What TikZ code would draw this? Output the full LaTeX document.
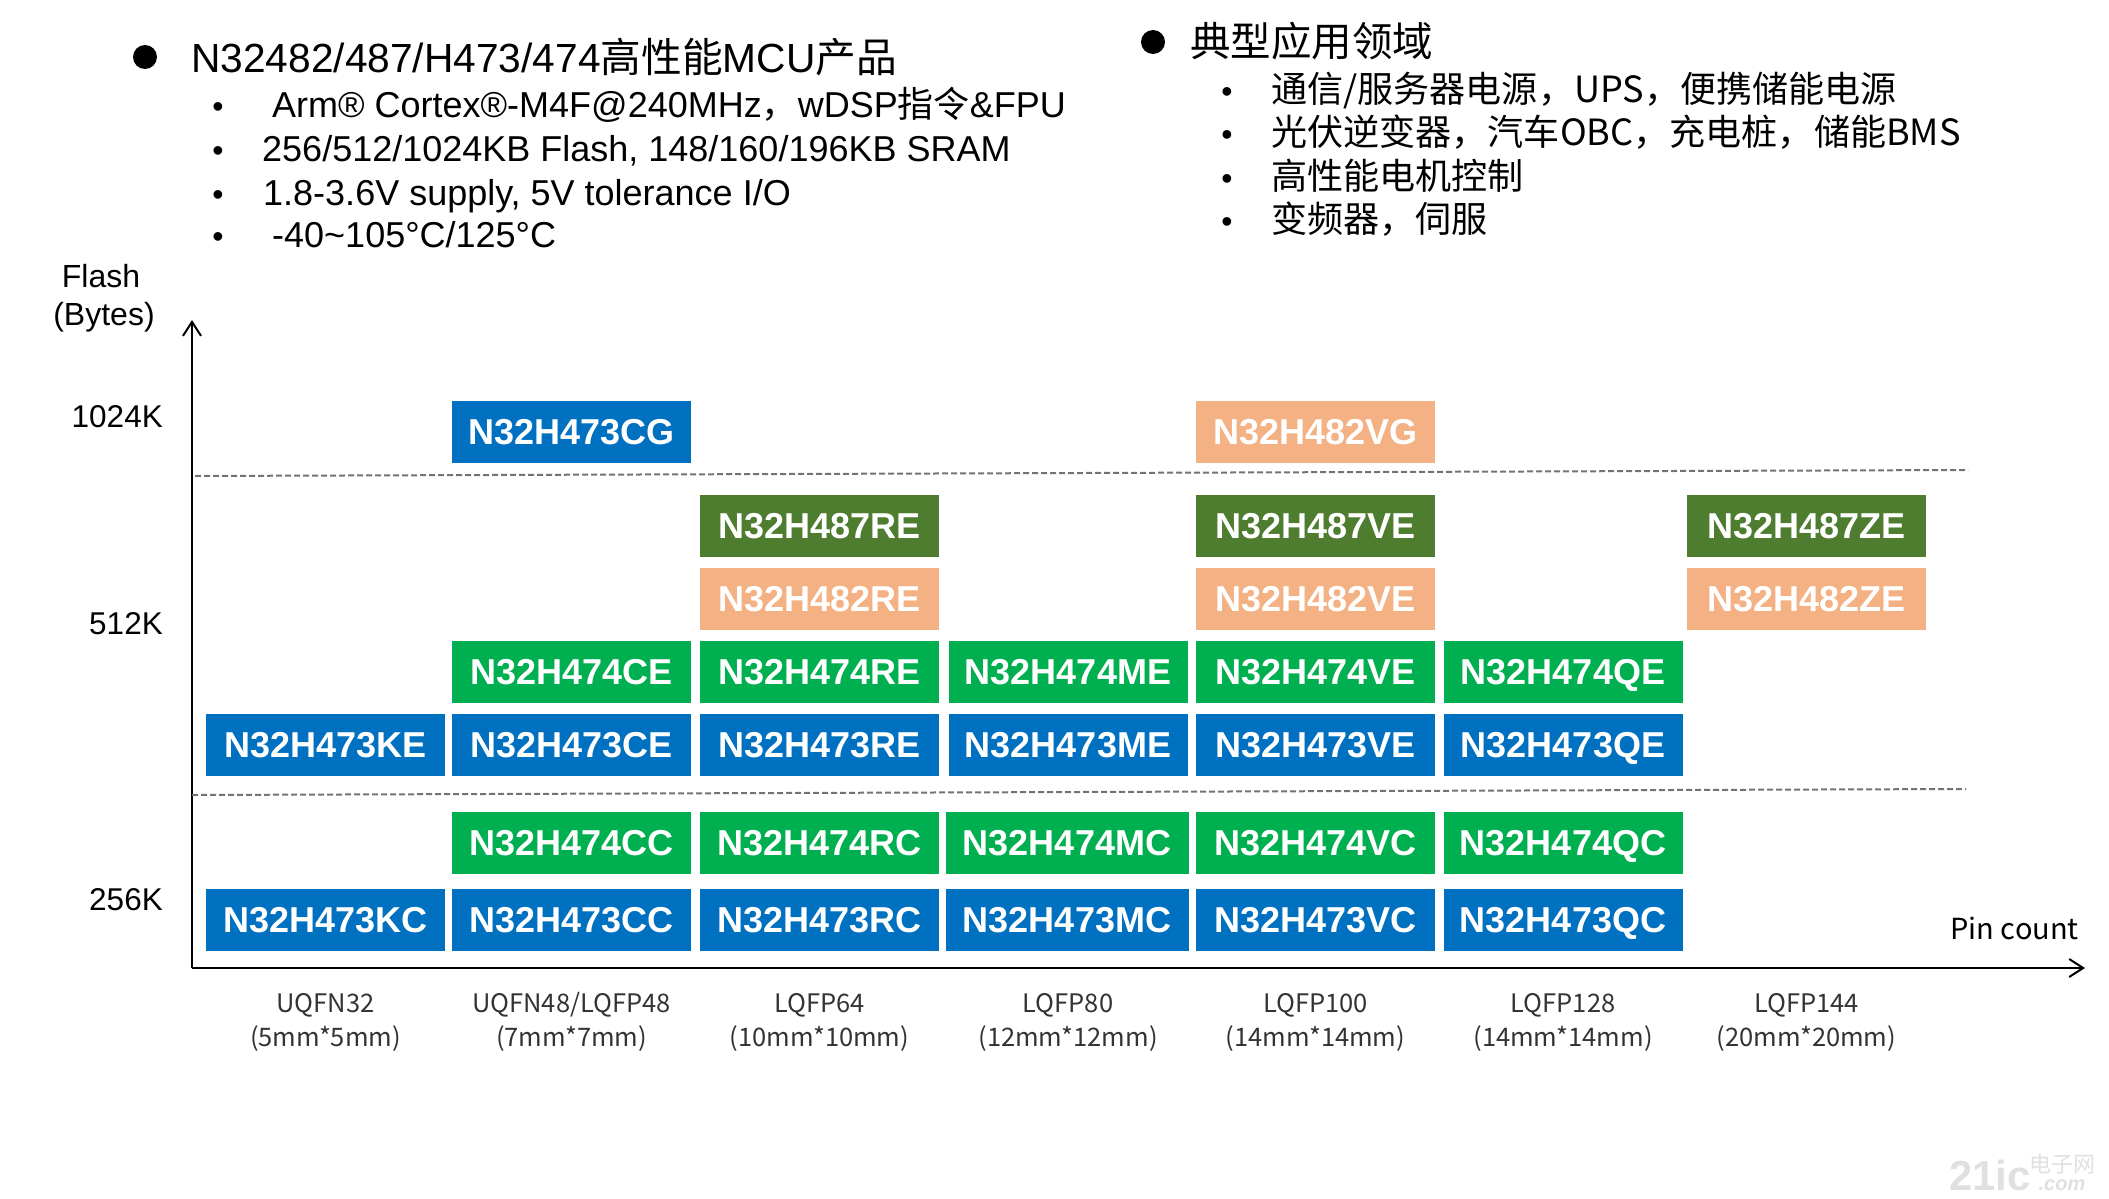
\documentclass[tikz,border=0pt]{standalone}
\usepackage{fontspec}
\setmainfont{Liberation Sans}
\newfontfamily\cjkfont{Noto Sans CJK SC}
\usetikzlibrary{arrows.meta}
\definecolor{chipblue}{HTML}{0070C0}
\definecolor{chipgreen}{HTML}{00B050}
\definecolor{chipolive}{HTML}{4E7D30}
\definecolor{chiporange}{HTML}{F4B183}
\tikzset{
  chip/.style={minimum width=239pt,minimum height=62pt,inner sep=0pt,text=white,
    text height=25pt,text depth=0pt,font=\fontsize{36}{36}\selectfont\bfseries},
  h473/.style={chip,fill=chipblue},
  h474/.style={chip,fill=chipgreen},
  h487/.style={chip,fill=chipolive},
  h482/.style={chip,fill=chiporange},
  headline/.style={anchor=base west,inner sep=0pt,font=\fontsize{40.7}{40.7}\selectfont},
  specline/.style={anchor=base west,inner sep=0pt,font=\fontsize{36}{36}\selectfont},
  useline/.style={anchor=base west,inner sep=0pt,font=\fontsize{36.1}{36.1}\selectfont\cjkfont},
  smalldot/.style={anchor=base,inner sep=0pt,font=\fontsize{32}{32}\selectfont},
  bigdot/.style={circle,fill=black,inner sep=0pt,minimum size=24pt},
  sizelabel/.style={anchor=base east,inner sep=0pt,font=\fontsize{31.5}{31.5}\selectfont},
  pkglabel/.style={anchor=base,inner sep=0pt,text=black!80,font=\fontsize{25.5}{25.5}\selectfont\cjkfont},
  limit/.style={draw=black!55,line width=2pt,dash pattern=on 6pt off 3pt},
  axis/.style={line width=2pt,-{Straight Barb[length=14pt,width=18pt]}}
}
\begin{document}
\begin{tikzpicture}[x=1pt,y=-1pt]
  \useasboundingbox (0,0) rectangle (2109,1199);
  \draw
    (145,57) node[bigdot] (dotl){}
    (191,72) node[headline] (headl){N32482/487/H473/474{\cjkfont 高性能}MCU{\cjkfont 产品}}
    (218,117) node[smalldot] (dotl1){•}
    (218,161) node[smalldot] (dotl2){•}
    (218,205) node[smalldot] (dotl3){•}
    (218,247) node[smalldot] (dotl4){•}
    (272,117) node[specline] (specl1){Arm® Cortex®-M4F@240MHz{\cjkfont ，}wDSP{\cjkfont 指令}\&FPU}
    (262,161) node[specline] (specl2){256/512/1024KB Flash, 148/160/196KB SRAM}
    (263,205) node[specline] (specl3){1.8-3.6V supply, 5V tolerance I/O}
    (272,247) node[specline] (specl4){-40\textasciitilde 105°C/125°C};
  \draw
    (1153,42) node[bigdot] (dotr){}
    (1190,57) node[headline,font=\fontsize{40.5}{40.5}\selectfont\cjkfont] (headr){典型应用领域}
    (1227,102) node[smalldot] (dotr1){•}
    (1227,145) node[smalldot] (dotr2){•}
    (1227,189) node[smalldot] (dotr3){•}
    (1227,232) node[smalldot] (dotr4){•}
    (1271,102) node[useline] (user1){通信/服务器电源，UPS，便携储能电源}
    (1271,145) node[useline] (user2){光伏逆变器，汽车OBC，充电桩，储能BMS}
    (1271,189) node[useline] (user3){高性能电机控制}
    (1271,232) node[useline] (user4){变频器，伺服};
  \draw
    (101,287) node[anchor=base,inner sep=0pt,font=\fontsize{32}{32}\selectfont] (flash){Flash}
    (104,325) node[anchor=base,inner sep=0pt,font=\fontsize{32}{32}\selectfont] (bytes){(Bytes)}
    (163,427) node[sizelabel] (s1024){1024K}
    (163,634) node[sizelabel] (s512){512K}
    (163,910) node[sizelabel] (s256){256K};
  \coordinate (origin) at (192,968);
  \coordinate (ytop) at (192,320);
  \coordinate (xend) at (2085,968);
  \coordinate (upa) at (195,476);
  \coordinate (upb) at (1968,470);
  \coordinate (lowa) at (192,795);
  \coordinate (lowb) at (1966,789);
  \begin{scope}
    \draw[axis] (origin) to (ytop);
    \draw[axis] (origin) to (xend);
    \draw[limit] (upa) to (upb);
    \draw[limit] (lowa) to (lowb);
  \end{scope}
  \draw
    (571.5,432) node[h473] (cg){N32H473CG}
    (1315.5,432) node[h482] (vg){N32H482VG}
    (819.5,526) node[h487] (re487){N32H487RE}
    (1315.5,526) node[h487] (ve487){N32H487VE}
    (1806.5,526) node[h487] (ze487){N32H487ZE}
    (819.5,599) node[h482] (re482){N32H482RE}
    (1315.5,599) node[h482] (ve482){N32H482VE}
    (1806.5,599) node[h482] (ze482){N32H482ZE}
    (571.5,672) node[h474] (ce474){N32H474CE}
    (819.5,672) node[h474] (re474){N32H474RE}
    (1068,672) node[h474] (me474){N32H474ME}
    (1315.5,672) node[h474] (ve474){N32H474VE}
    (1563,672) node[h474] (qe474){N32H474QE}
    (325.5,745) node[h473] (ke473){N32H473KE}
    (571.5,745) node[h473] (ce473){N32H473CE}
    (819.5,745) node[h473] (re473){N32H473RE}
    (1068,745) node[h473] (me473){N32H473ME}
    (1315.5,745) node[h473] (ve473){N32H473VE}
    (1563,745) node[h473] (qe473){N32H473QE}
    (571.5,843) node[h474] (cc474){N32H474CC}
    (819.5,843) node[h474] (rc474){N32H474RC}
    (1067,843) node[h474,minimum width=243pt] (mc474){N32H474MC}
    (1315.5,843) node[h474] (vc474){N32H474VC}
    (1563,843) node[h474] (qc474){N32H474QC}
    (325.5,920) node[h473] (kc473){N32H473KC}
    (571.5,920) node[h473] (cc473){N32H473CC}
    (819.5,920) node[h473] (rc473){N32H473RC}
    (1067,920) node[h473,minimum width=243pt] (mc473){N32H473MC}
    (1315.5,920) node[h473] (vc473){N32H473VC}
    (1563,920) node[h473] (qc473){N32H473QC};
  \draw
    (325.5,1012) node[pkglabel] (pa){UQFN32}
    (325.5,1046) node[pkglabel] (pas){(5mm*5mm)}
    (571.5,1012) node[pkglabel] (pb){UQFN48/LQFP48}
    (571.5,1046) node[pkglabel] (pbs){(7mm*7mm)}
    (819.5,1012) node[pkglabel] (pc){LQFP64}
    (819.5,1046) node[pkglabel] (pcs){(10mm*10mm)}
    (1068,1012) node[pkglabel] (pd){LQFP80}
    (1068,1046) node[pkglabel] (pds){(12mm*12mm)}
    (1315.5,1012) node[pkglabel] (pe){LQFP100}
    (1315.5,1046) node[pkglabel] (pes){(14mm*14mm)}
    (1563,1012) node[pkglabel] (pf){LQFP128}
    (1563,1046) node[pkglabel] (pfs){(14mm*14mm)}
    (1806.5,1012) node[pkglabel] (pg){LQFP144}
    (1806.5,1046) node[pkglabel] (pgs){(20mm*20mm)}
    (2079,939) node[anchor=base east,inner sep=0pt,font=\fontsize{29}{29}\selectfont\cjkfont] (pins){Pin count};
  \draw
    (1990,1190) node[anchor=base,inner sep=0pt,text=black!12,font=\fontsize{42}{42}\selectfont\bfseries] (mark){21ic}
    (2062,1172) node[anchor=base,inner sep=0pt,text=black!12,font=\fontsize{22}{22}\selectfont\cjkfont] (markcn){电子网}
    (2062,1190) node[anchor=base,inner sep=0pt,text=black!12,font=\fontsize{20}{20}\selectfont\itshape\bfseries] (markcom){.com};
\end{tikzpicture}
\end{document}
